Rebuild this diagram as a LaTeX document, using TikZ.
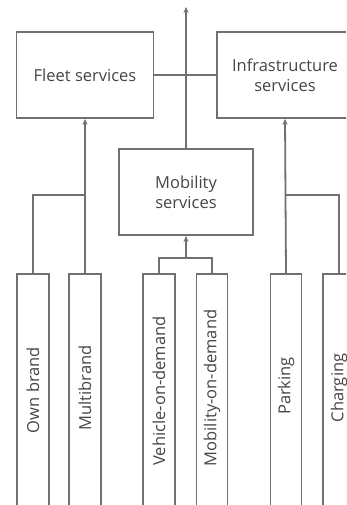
\documentclass[tikz,border=0pt]{standalone}
\usepackage{fontspec}
\setmainfont{Open Sans}
\usetikzlibrary{arrows.meta}
\definecolor{ln}{RGB}{112,112,112}
\definecolor{tx}{RGB}{70,70,70}
\begin{document}
\begin{tikzpicture}[x=1pt,y=-1pt,
  box/.style={draw=ln,line width=1.8pt,fill=white,inner sep=0pt,font=\fontsize{16.5}{20}\selectfont,text=tx,align=center},
  leaf/.style={draw=ln,line width=1.8pt,inner sep=0pt},
  con/.style={draw=ln,line width=1.8pt},
  arr/.style={con,-{Stealth[length=6pt,width=5pt]}},
  vlab/.style={rotate=90,font=\fontsize{16.5}{20}\selectfont,text=tx,inner sep=0pt}]
\clip (0,0) rectangle (346,505);
\useasboundingbox (0,0) rectangle (346,505);
\fill[white] (0,0) rectangle (346,505);
% top boxes
\node[box,minimum width=137pt,minimum height=86pt] (fleet) at (85,75) {Fleet services};
\node[box,minimum width=136pt,minimum height=86pt] (infra) at (285,75) {Infrastructure\\services};
\node[box,minimum width=134pt,minimum height=86pt] (mob) at (186,192) {Mobility\\services};
\coordinate (top) at (186,7);
\draw[con] (fleet.east) -- (infra.west);
\draw[arr] (mob.north) -- (top);
% leaves
\node[leaf,minimum width=32pt,minimum height=260pt,anchor=north] (own) at (33,273) {};
\node[leaf,minimum width=32pt,minimum height=260pt,anchor=north] (multi) at (85,273) {};
\node[leaf,minimum width=32pt,minimum height=260pt,anchor=north] (veh) at (159,273) {};
\node[leaf,minimum width=31pt,minimum height=260pt,anchor=north] (mod) at (212,273) {};
\node[leaf,minimum width=31pt,minimum height=260pt,anchor=north] (park) at (286,273) {};
\node[leaf,minimum width=32pt,minimum height=260pt,anchor=north] (charg) at (339,273) {};
\node[vlab] (lown) at (33,390) {Own brand};
\node[vlab] (lmulti) at (85,388) {Multibrand};
\node[vlab] (lveh) at (159,391) {Vehicle-on-demand};
\node[vlab] (lmod) at (212,388) {Mobility-on-demand};
\node[vlab] (lpark) at (286,386) {Parking};
\node[vlab] (lcharg) at (339,388) {Charging};
% fleet group
\coordinate (fj) at (85,195);
\draw[arr] (multi.north) -- (fleet.south);
\draw[con] (own.north) |- (fj);
% infra group
\coordinate (ij) at (286,195);
\draw[arr] (park.north) -- (infra.south);
\draw[con] (charg.north) |- (ij);
% mobility group
\coordinate (mj) at (186,258);
\draw[con] (veh.north) |- (mj) -| (mod.north);
\draw[arr] (mj) -- (mob.south);
\end{tikzpicture}
\end{document}
